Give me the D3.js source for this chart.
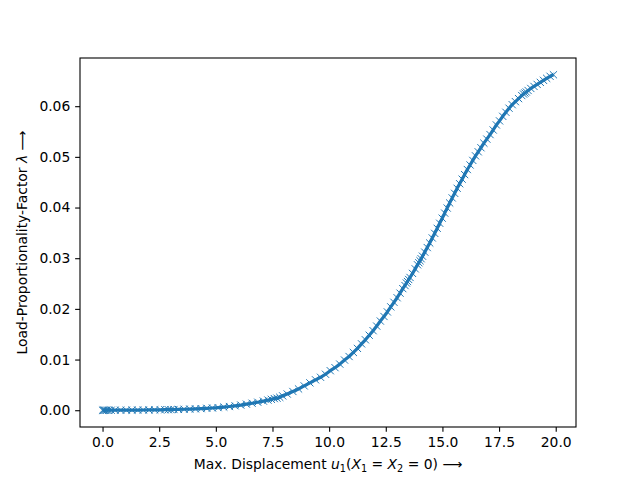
<!DOCTYPE html>
<html>
<head>
<meta charset="utf-8">
<script src="https://cdn.jsdelivr.net/npm/d3@7"></script>
<style>
  html, body { margin: 0; padding: 0; background: #fff; }
  svg text { font-family: "DejaVu Sans", sans-serif; }
</style>
</head>
<body>
<svg id="chart" width="640" height="480"></svg>
<script>
// Max. displacement u1 (x) and load-proportionality-factor lambda (y)
const displacement = [
  0.00, 0.04, 0.08, 0.13, 0.19, 0.27, 0.38, 0.55, 0.80, 1.05, 1.30, 1.55, 1.80, 2.05, 2.30, 2.55,
  2.75, 2.90, 3.02, 3.15, 3.35, 3.60, 3.85, 4.10, 4.35, 4.60, 4.85, 5.10, 5.35, 5.60, 5.85, 6.10,
  6.35, 6.60, 6.85, 7.10, 7.30, 7.45, 7.58, 7.70, 7.82, 7.95, 8.15, 8.40, 8.65, 8.90, 9.15, 9.40,
  9.62, 9.84, 10.05, 10.26, 10.47, 10.68, 10.88, 11.07, 11.25, 11.43, 11.60, 11.77, 11.94, 12.10,
  12.26, 12.42, 12.57, 12.72, 12.86, 13.00, 13.13, 13.25, 13.35, 13.41, 13.46, 13.51, 13.57, 13.68,
  13.80, 13.90, 13.96, 14.01, 14.06, 14.12, 14.22, 14.33, 14.44, 14.55, 14.66, 14.77, 14.88, 14.99,
  15.10, 15.21, 15.32, 15.43, 15.54, 15.65, 15.76, 15.87, 15.98, 16.10, 16.22, 16.34, 16.46, 16.58,
  16.70, 16.83, 16.96, 17.10, 17.24, 17.38, 17.52, 17.66, 17.80, 17.94, 18.08, 18.22, 18.36, 18.50,
  18.58, 18.64, 18.70, 18.78, 18.90, 19.04, 19.18, 19.32, 19.46, 19.60, 19.75, 19.90
];
const loadFactor = [
  0, 0, 0.000001, 0.000001, 0.000001, 0.000002, 0.000002, 0.000004, 0.000007, 0.000012, 0.000022, 0.000032, 0.000042, 0.000053, 0.000068, 0.000084,
  0.00010, 0.00011, 0.00012, 0.00014, 0.00016, 0.00019, 0.00023, 0.00027, 0.00032, 0.00038, 0.00044, 0.00052, 0.00062, 0.00073, 0.00087, 0.00102,
  0.00120, 0.00138, 0.00158, 0.00180, 0.00200, 0.00215, 0.00230, 0.00238, 0.00255, 0.00283, 0.0032, 0.0037, 0.0042, 0.0048, 0.0054, 0.0060,
  0.0065, 0.0071, 0.0078, 0.0084, 0.0091, 0.0099, 0.0106, 0.0114, 0.0122, 0.0131, 0.0139, 0.0148, 0.0157, 0.0166,
  0.0176, 0.0185, 0.0194, 0.0204, 0.0213, 0.0222, 0.0231, 0.0240, 0.0246, 0.0251, 0.0254, 0.0258, 0.0262, 0.0270,
  0.0279, 0.0287, 0.0291, 0.0295, 0.0299, 0.0304, 0.0312, 0.0321, 0.0330, 0.0340, 0.0349, 0.0359, 0.0369, 0.0379,
  0.0389, 0.0399, 0.0409, 0.0419, 0.0428, 0.0438, 0.0447, 0.0456, 0.0465, 0.0475, 0.0484, 0.0493, 0.0502, 0.0510,
  0.0518, 0.0527, 0.0535, 0.0544, 0.0553, 0.0563, 0.0571, 0.0580, 0.0588, 0.0596, 0.0603, 0.0609, 0.0615, 0.0621,
  0.0624, 0.0626, 0.0628, 0.0631, 0.0635, 0.0639, 0.0643, 0.0647, 0.0651, 0.0655, 0.0659, 0.0662
];
const xTicks = [0, 2.5, 5, 7.5, 10, 12.5, 15, 17.5, 20];
const yTicks = [0, 0.01, 0.02, 0.03, 0.04, 0.05, 0.06];

const W = 640, H = 480;
const m = { left: 80, right: 64, top: 58, bottom: 53 };
const color = "#1f77b4";
const fs = 13.89;

const svg = d3.select("#chart");
const data = displacement.map((d, i) => [d, loadFactor[i]]);

const xMin = d3.min(displacement), xMax = d3.max(displacement);
const yMin = d3.min(loadFactor), yMax = d3.max(loadFactor);
const xPad = (xMax - xMin) * 0.05, yPad = (yMax - yMin) * 0.05;

const x = d3.scaleLinear().domain([xMin - xPad, xMax + xPad]).range([m.left, W - m.right]);
const y = d3.scaleLinear().domain([yMin - yPad, yMax + yPad]).range([H - m.bottom, m.top]);

const xAxis = d3.axisBottom(x).tickValues(xTicks).tickFormat(d3.format(".1f")).tickSize(4.86).tickPadding(4.86);
const yAxis = d3.axisLeft(y).tickValues(yTicks).tickFormat(d3.format(".2f")).tickSize(4.86).tickPadding(4.86);

const gx = svg.append("g").attr("transform", `translate(0,${H - m.bottom})`).call(xAxis);
const gy = svg.append("g").attr("transform", `translate(${m.left},0)`).call(yAxis);
[gx, gy].forEach(g => {
  g.select(".domain").remove();
  g.selectAll(".tick line").attr("stroke", "#000").attr("stroke-width", 1.1);
  g.selectAll(".tick text").attr("fill", "#000").style("font-size", fs + "px").style("font-family", "DejaVu Sans");
});

const line = d3.line().x(d => x(d[0])).y(d => y(d[1]));
svg.append("path").datum(data)
  .attr("fill", "none").attr("stroke", color).attr("stroke-width", 3.2)
  .attr("stroke-linejoin", "round").attr("stroke-linecap", "butt")
  .attr("d", line);

const s = 3.6;
svg.append("g").selectAll("path").data(data).join("path")
  .attr("transform", d => `translate(${x(d[0])},${y(d[1])})`)
  .attr("d", `M${-s},${-s}L${s},${s}M${-s},${s}L${s},${-s}`)
  .attr("stroke", color).attr("stroke-width", 1).attr("fill", "none");

svg.append("rect")
  .attr("x", m.left).attr("y", m.top)
  .attr("width", W - m.left - m.right).attr("height", H - m.top - m.bottom)
  .attr("fill", "none").attr("stroke", "#000").attr("stroke-width", 1.1);

const sub = fs * 0.7;
const xl = svg.append("text")
  .attr("x", (m.left + W - m.right) / 2).attr("y", 469)
  .attr("text-anchor", "middle").style("font-size", fs + "px").attr("fill", "#000");
xl.append("tspan").text("Max. Displacement ");
xl.append("tspan").style("font-style", "italic").text("u");
xl.append("tspan").style("font-size", sub + "px").attr("dy", 3).text("1");
xl.append("tspan").attr("dy", -3).text("(");
xl.append("tspan").style("font-style", "italic").text("X");
xl.append("tspan").style("font-size", sub + "px").attr("dy", 3).text("1");
xl.append("tspan").attr("dy", -3).text(" = ");
xl.append("tspan").style("font-style", "italic").text("X");
xl.append("tspan").style("font-size", sub + "px").attr("dy", 3).text("2");
xl.append("tspan").attr("dy", -3).text(" = 0)  \u27F6");

const yl = svg.append("text")
  .attr("transform", `translate(27,${(m.top + H - m.bottom) / 2}) rotate(-90)`)
  .attr("text-anchor", "middle").style("font-size", fs + "px").attr("fill", "#000");
yl.append("tspan").text("Load-Proportionality-Factor ");
yl.append("tspan").style("font-style", "italic").text("\u03BB");
yl.append("tspan").text("  \u27F6");
</script>
</body>
</html>
